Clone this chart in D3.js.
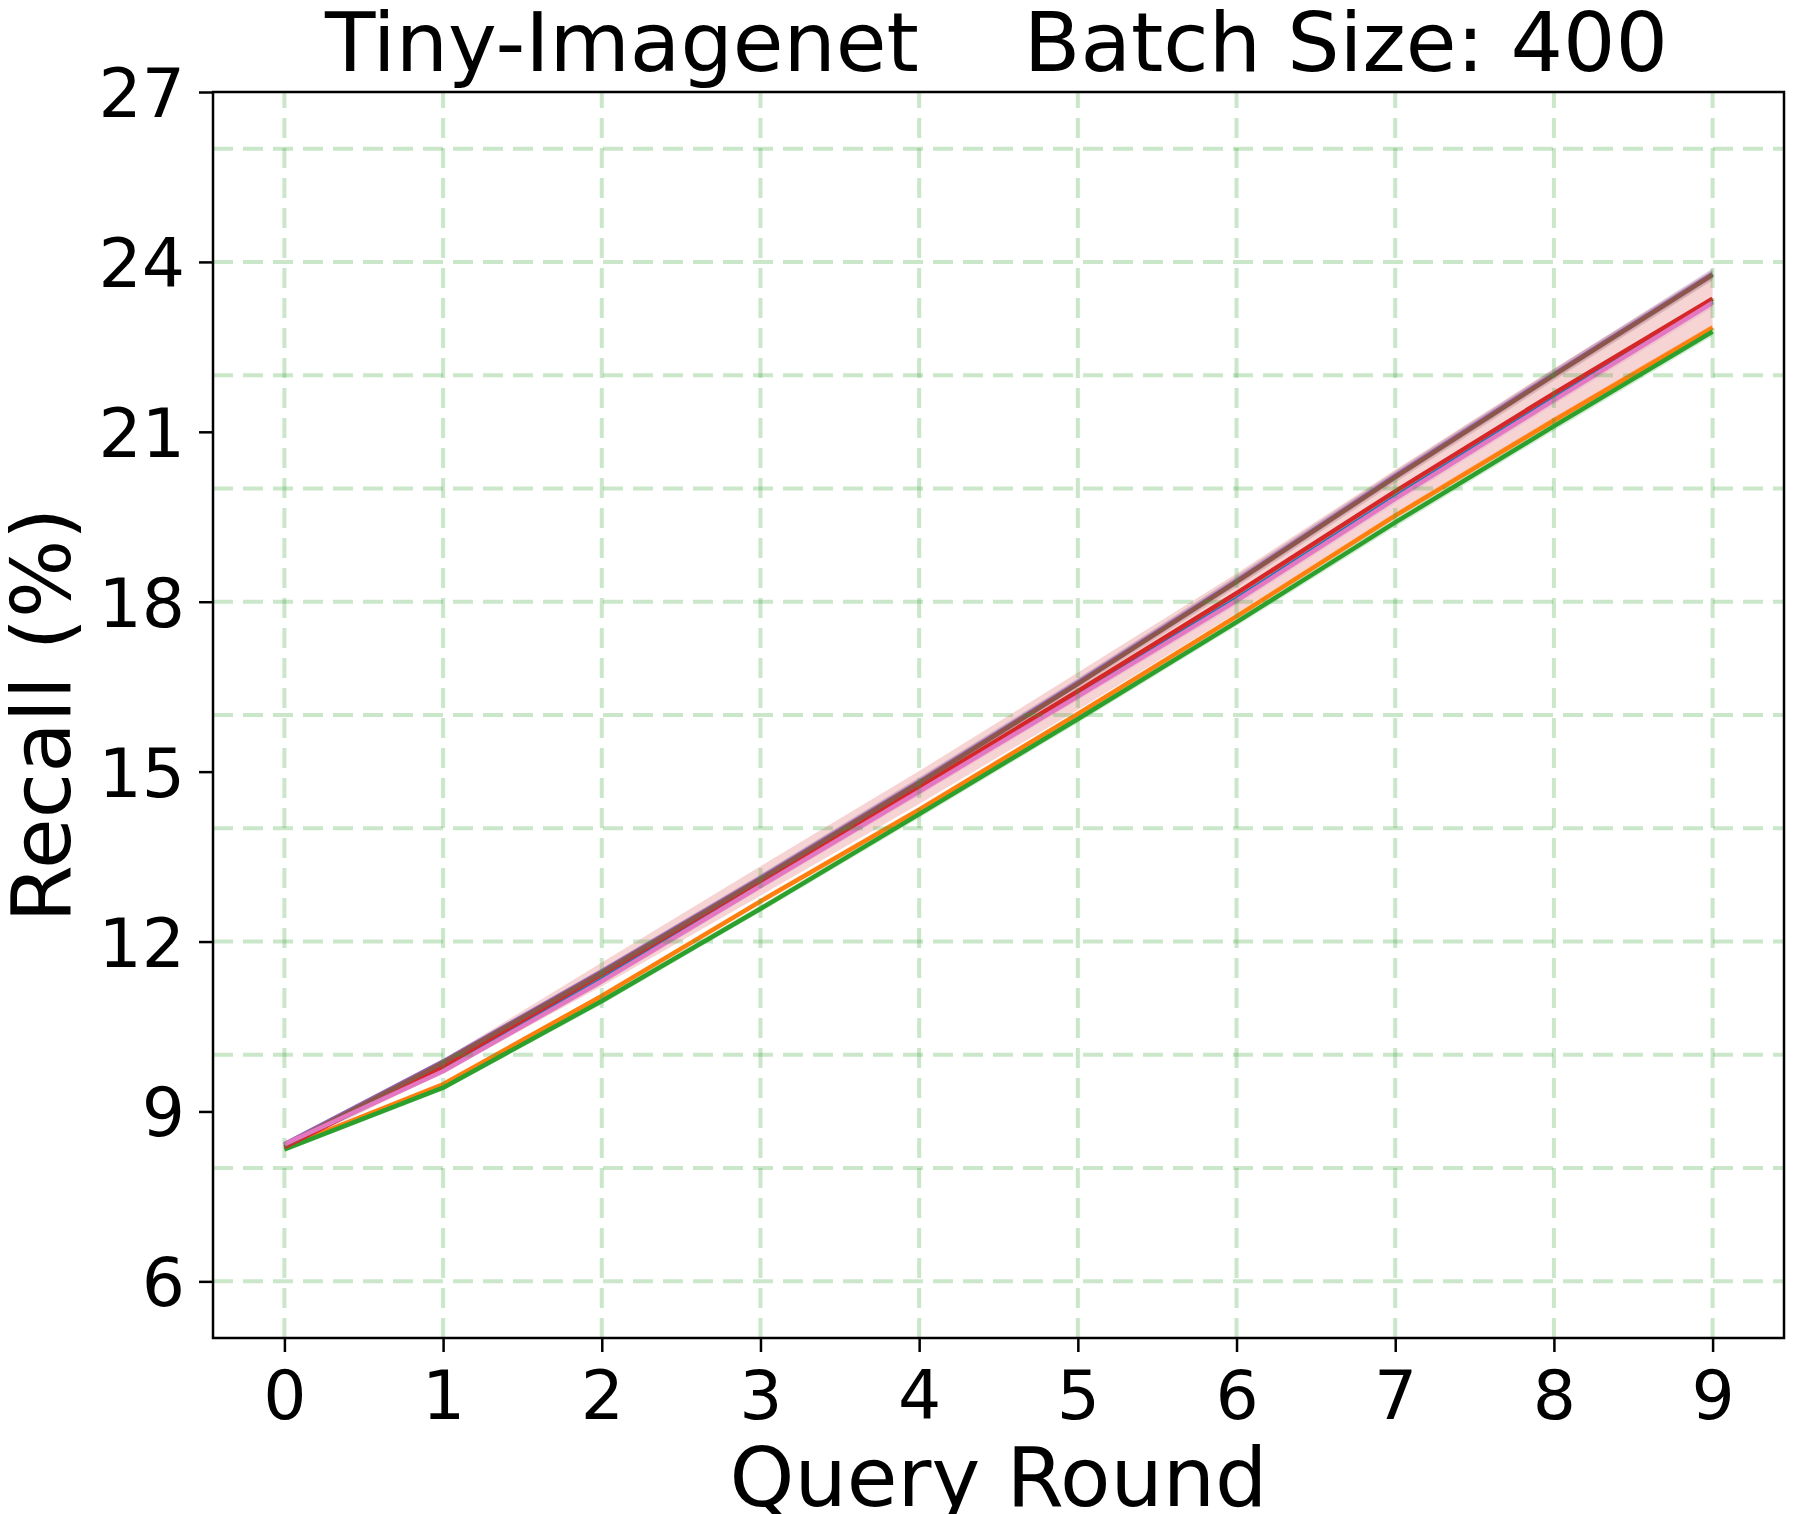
<!DOCTYPE html>
<html>
<head>
<meta charset="utf-8">
<script src="https://cdn.jsdelivr.net/npm/d3@7"></script>
<style>
  html, body { margin: 0; padding: 0; background: #fff; }
  svg { display: block; }
  text { font-family: "DejaVu Sans", sans-serif; fill: #000; }
</style>
</head>
<body>
<svg id="chart" width="1797" height="1514"></svg>
<script>
// ---- data ----
const rounds = [0, 1, 2, 3, 4, 5, 6, 7, 8, 9];
const seriesNames = ["blue", "orange", "green", "red", "purple", "brown", "pink"];
const seriesColors = ["#1f77b4", "#ff7f0e", "#2ca02c", "#d62728", "#9467bd", "#8c564b", "#e377c2"];
const blueVals   = [8.40, 9.74, 11.33, 13.01, 14.68, 16.36, 18.05, 19.85, 21.59, 23.30];
const orangeVals = [8.36, 9.48, 11.04, 12.71, 14.33, 16.02, 17.74, 19.52, 21.20, 22.84];
const greenVals  = [8.33, 9.42, 10.95, 12.58, 14.25, 15.93, 17.64, 19.40, 21.10, 22.77];
const redVals    = [8.37, 9.80, 11.42, 13.07, 14.72, 16.42, 18.15, 19.95, 21.68, 23.35];
const purpleVals = [8.42, 9.88, 11.47, 13.12, 14.82, 16.57, 18.37, 20.22, 22.02, 23.79];
const brownVals  = [8.40, 9.86, 11.45, 13.10, 14.80, 16.55, 18.35, 20.20, 22.00, 23.77];
const pinkVals   = [8.42, 9.71, 11.30, 12.98, 14.65, 16.33, 18.02, 19.82, 21.56, 23.28];
const blueStd    = [0.03, 0.04, 0.05, 0.05, 0.06, 0.06, 0.06, 0.07, 0.07, 0.07];
const orangeStd  = [0.03, 0.04, 0.04, 0.05, 0.05, 0.05, 0.06, 0.06, 0.06, 0.06];
const greenStd   = [0.04, 0.05, 0.06, 0.06, 0.07, 0.07, 0.07, 0.08, 0.08, 0.08];
const redStd     = [0.05, 0.12, 0.21, 0.26, 0.29, 0.33, 0.35, 0.38, 0.44, 0.50];
const purpleStd  = [0.04, 0.05, 0.06, 0.07, 0.08, 0.08, 0.09, 0.09, 0.09, 0.10];
const brownStd   = [0.05, 0.06, 0.07, 0.08, 0.09, 0.09, 0.10, 0.10, 0.10, 0.10];
const pinkStd    = [0.04, 0.05, 0.06, 0.06, 0.07, 0.07, 0.08, 0.08, 0.08, 0.09];
const xTicks = [0, 1, 2, 3, 4, 5, 6, 7, 8, 9];
const yTicks = [6, 9, 12, 15, 18, 21, 24, 27];
const yGrid  = [6, 8, 10, 12, 14, 16, 18, 20, 22, 24, 26];
const titleText = "Tiny-Imagenet    Batch Size: 400";
const xLabel = "Query Round";
const yLabel = "Recall (%)";

const allVals = [blueVals, orangeVals, greenVals, redVals, purpleVals, brownVals, pinkVals];
const allStd = [blueStd, orangeStd, greenStd, redStd, purpleStd, brownStd, pinkStd];

// ---- layout ----
const L = 213, R = 1784, T = 92, B = 1338;
const svg = d3.select("#chart");
const x = d3.scaleLinear().domain([-0.45, 9.45]).range([L, R]);
const y = d3.scaleLinear().domain([5, 27]).range([B, T]);

const plot = svg.append("g");

// bands
allVals.forEach((vals, i) => {
  const area = d3.area()
    .x((d, j) => x(rounds[j]))
    .y0((d, j) => y(vals[j] - allStd[i][j]))
    .y1((d, j) => y(vals[j] + allStd[i][j]));
  plot.append("path")
    .attr("d", area(vals))
    .attr("fill", seriesColors[i])
    .attr("fill-opacity", 0.2)
    .attr("stroke", "none");
});

// lines
allVals.forEach((vals, i) => {
  const line = d3.line().x((d, j) => x(rounds[j])).y(d => y(d));
  plot.append("path")
    .attr("d", line(vals))
    .attr("fill", "none")
    .attr("stroke", seriesColors[i])
    .attr("stroke-width", 4.5)
    .attr("stroke-linejoin", "round")
    .attr("stroke-linecap", "butt");
});

// grid (drawn over lines)
const grid = svg.append("g");
xTicks.forEach(t => {
  grid.append("line")
    .attr("x1", x(t)).attr("x2", x(t))
    .attr("y1", B).attr("y2", T)
    .attr("stroke", "#2ca02c").attr("stroke-opacity", 0.25)
    .attr("stroke-width", 4).attr("stroke-dasharray", "20,10");
});
yGrid.forEach(t => {
  grid.append("line")
    .attr("x1", L).attr("x2", R)
    .attr("y1", y(t)).attr("y2", y(t))
    .attr("stroke", "#2ca02c").attr("stroke-opacity", 0.25)
    .attr("stroke-width", 4).attr("stroke-dasharray", "20,10");
});

// axes
const xAxis = d3.axisBottom(x).tickValues(xTicks).tickSize(14).tickPadding(14).tickFormat(d3.format("d"));
const yAxis = d3.axisLeft(y).tickValues(yTicks).tickSize(14).tickPadding(14).tickFormat(d3.format("d"));

const gx = svg.append("g").attr("transform", `translate(0,${B})`).call(xAxis);
const gy = svg.append("g").attr("transform", `translate(${L},0)`).call(yAxis);
[gx, gy].forEach(g => {
  g.select(".domain").remove();
  g.selectAll(".tick line").attr("stroke", "#000").attr("stroke-width", 2.5);
  g.selectAll(".tick text").attr("font-size", 68).attr("font-family", "DejaVu Sans").attr("fill", "#000");
});
gx.selectAll(".tick text").attr("dy", "0.78em");
gy.selectAll(".tick text").attr("dy", "0.36em");

// spines
svg.append("rect")
  .attr("x", L).attr("y", T).attr("width", R - L).attr("height", B - T)
  .attr("fill", "none").attr("stroke", "#000").attr("stroke-width", 2.5);

// title & labels
svg.append("text")
  .attr("x", (L + R) / 2 - 2).attr("y", 71)
  .attr("text-anchor", "middle").attr("font-size", 82.5)
  .style("white-space", "pre")
  .text(titleText);

svg.append("text")
  .attr("x", (L + R) / 2).attr("y", 1506)
  .attr("text-anchor", "middle").attr("font-size", 82.5)
  .text(xLabel);

svg.append("text")
  .attr("transform", `translate(70,${(T + B) / 2}) rotate(-90)`)
  .attr("text-anchor", "middle").attr("font-size", 82.5)
  .text(yLabel);
</script>
</body>
</html>
